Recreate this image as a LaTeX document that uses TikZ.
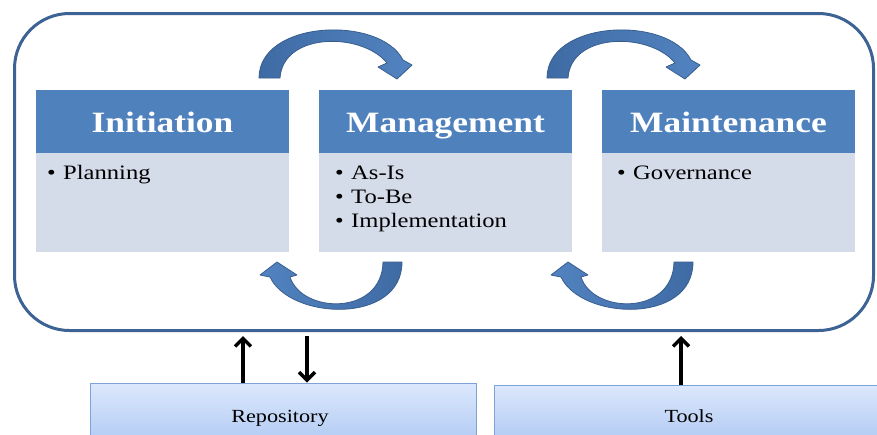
\documentclass[tikz,border=0pt]{standalone}
\usepackage{fontspec}
\setmainfont{Liberation Serif}[FakeStretch=1.2]
\usetikzlibrary{arrows.meta}

\definecolor{hdrblue}{HTML}{4F81BD}
\definecolor{bodyblue}{HTML}{D4DBE9}
\definecolor{frameblue}{HTML}{3C6393}
\definecolor{arcdark}{HTML}{3F6BA4}
\definecolor{arclight}{HTML}{5283C0}
\definecolor{arcedge}{HTML}{385E8E}
\definecolor{boxtop}{HTML}{DCE8FC}
\definecolor{boxbot}{HTML}{ABC6F2}
\definecolor{boxedge}{HTML}{7FA3D6}

\tikzset{
  frame/.style={draw=frameblue, line width=3pt, rounded corners=55pt,
    minimum width=859pt, minimum height=317pt, inner sep=0pt},
  phasehead/.style={fill=hdrblue, minimum width=253pt, minimum height=63pt,
    inner sep=0pt},
  phasetitle/.style={anchor=base, inner sep=0pt, text=white,
    font=\fontsize{29.5}{30}\selectfont\bfseries},
  phasebody/.style={fill=bodyblue, minimum width=253pt, minimum height=99pt,
    inner sep=0pt},
  item/.style={anchor=base west, inner sep=0pt,
    font=\fontsize{20.5}{24}\selectfont},
  support/.style={draw=boxedge, line width=0.8pt, top color=boxtop,
    bottom color=boxbot, inner sep=0pt},
  supportlabel/.style={anchor=base, inner sep=0pt,
    font=\fontsize{18.5}{20}\selectfont},
  ioarrow/.style={line width=3.5pt,
    -{Straight Barb[length=8pt,width=16pt]}},
  overarc/.pic={
    \path[left color=arcdark, right color=arclight, draw=arcedge,
          line width=0.8pt, line join=round]
      (259,78) .. controls (259,20) and (380,15) .. (403,60)
      -- (412,65) -- (397,79) -- (378,67) -- (387,63)
      .. controls (362,32) and (283,32) .. (280,78) -- cycle;
  },
  underarc/.pic={
    \path[left color=arclight, right color=arcdark, draw=arcedge,
          line width=0.8pt, line join=round]
      (402,262) .. controls (402,325) and (290,320) .. (270,277)
      -- (260,275) -- (277,262) -- (297,275) -- (290,277)
      .. controls (302,314) and (382,316) .. (383,262) -- cycle;
  }
}

\newcommand{\bulletitem}[1]{\makebox[16pt][l]{\textbullet}#1}

\begin{document}
\begin{tikzpicture}[x=1pt,y=-1pt]
  \useasboundingbox (0,0) rectangle (877,434);
  \clip (0,0) rectangle (877,434);

  % enclosing lifecycle frame
  \node[frame] (frame) at (444,172) {};

  % phase boxes
  \node[phasebody] (initbody) at (162.5,202.5) {};
  \node[phasehead] (inithead) at (162.5,121.5) {};
  \node[phasetitle] (init) at (162.5,132) {Initiation};
  \node[phasebody] (mgmtbody) at (445.5,202.5) {};
  \node[phasehead] (mgmthead) at (445.5,121.5) {};
  \node[phasetitle] (mgmt) at (445.5,132) {Management};
  \node[phasebody] (maintbody) at (728.5,202.5) {};
  \node[phasehead] (mainthead) at (728.5,121.5) {};
  \node[phasetitle] (maint) at (728.5,132) {Maintenance};

  % phase activities
  \node[item] (planning) at (47,179) {\bulletitem{Planning}};
  \node[item] (asis) at (335,179) {\bulletitem{As-Is}};
  \node[item] (tobe) at (335,203) {\bulletitem{To-Be}};
  \node[item] (impl) at (335,227) {\bulletitem{Implementation}};
  \node[item] (gov) at (617,179) {\bulletitem{Governance}};

  % curved cycle arrows between phases
  \pic at (0,0) {overarc};
  \pic at (288,0) {overarc};
  \pic at (0,0) {underarc};
  \pic at (291,0) {underarc};

  % supporting resources
  \node[support, minimum width=386pt, minimum height=68pt] (repo)
    at (283,417) {};
  \node[supportlabel] (repolabel) at (280,422) {Repository};
  \node[support, minimum width=390pt, minimum height=64pt] (tools)
    at (689,417) {};
  \node[supportlabel] (toolslabel) at (689,422) {Tools};

  % exchanges with the frame
  \draw[ioarrow, shorten >=4pt] ([xshift=-40pt]repo.north)
    -- ([xshift=-40pt]repo.north |- frame.south);
  \draw[ioarrow, shorten <=4pt] ([xshift=24pt]repo.north |- frame.south)
    -- ([xshift=24pt]repo.north);
  \draw[ioarrow, shorten >=4pt] ([xshift=-8pt]tools.north)
    -- ([xshift=-8pt]tools.north |- frame.south);
\end{tikzpicture}
\end{document}
